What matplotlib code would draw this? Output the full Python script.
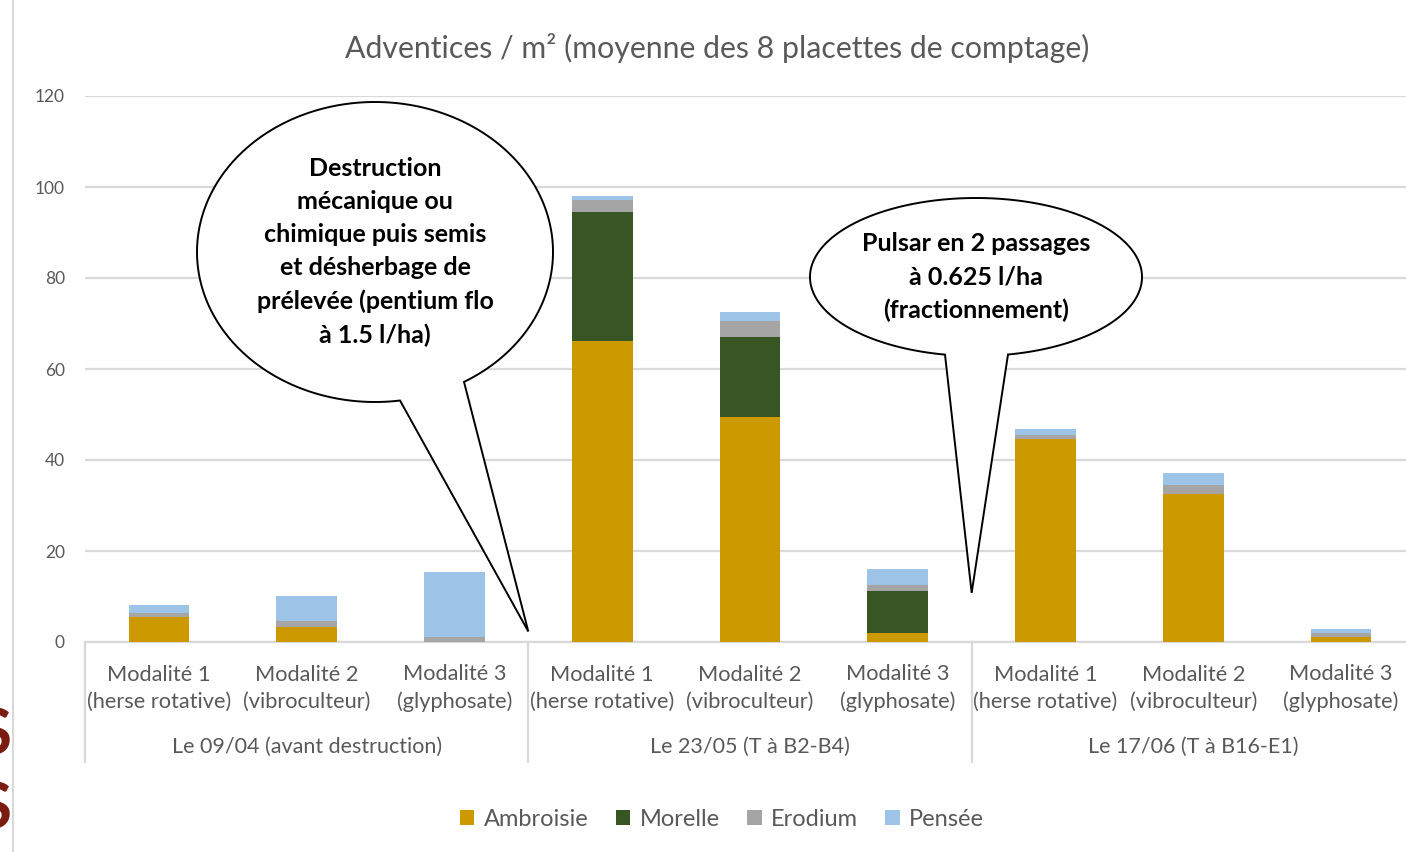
import numpy as np
import matplotlib
matplotlib.use("Agg")
import matplotlib.pyplot as plt
from matplotlib.patches import Patch, Polygon
from matplotlib.lines import Line2D

plt.rcParams['font.family'] = ['Lato', 'DejaVu Sans']

# ---------------- data ----------------
modalites = ["Modalité 1\n(herse rotative)", "Modalité 2\n(vibroculteur)", "Modalité 3\n(glyphosate)"]
groups = ["Le 09/04 (avant destruction)", "Le 23/05 (T à B2-B4)", "Le 17/06 (T à B16-E1)"]
series_names = ["Ambroisie", "Morelle", "Erodium", "Pensée"]
ambroisie = [5.4, 3.4, 0.0, 66.2, 49.5, 2.0, 44.6, 32.5, 1.2]
morelle = [0.0, 0.0, 0.0, 28.2, 17.5, 9.1, 0.0, 0.0, 0.0]
erodium = [1.0, 1.3, 1.2, 2.7, 3.6, 1.4, 1.0, 1.9, 0.7]
pensee = [1.7, 5.4, 14.1, 0.9, 2.0, 3.5, 1.2, 2.7, 1.0]
yticks = [0, 20, 40, 60, 80, 100, 120]
title = "Adventices / m² (moyenne des 8 placettes de comptage)"
callout1 = "Destruction\nmécanique ou\nchimique puis semis\net désherbage de\nprélevée (pentium flo\nà 1.5 l/ha)"
callout2 = "Pulsar en 2 passages\nà 0.625 l/ha\n(fractionnement)"

colors = ["#CC9900", "#375623", "#A5A5A5", "#9DC3E6"]
TXT = "#595959"
GRID = "#D9D9D9"

W, H = 1406, 852
fig = plt.figure(figsize=(W / 100, H / 100), dpi=100)
fig.patch.set_facecolor("white")

# axes in pixel positions
x0, x1 = 85, 1415
ytop, ybot = 96, 642
ax = fig.add_axes([x0 / W, 1 - ybot / H, (x1 - x0) / W, (ybot - ytop) / H])
ax.set_facecolor("none")

labels = modalites * 3
x = np.arange(len(labels))
series = [ambroisie, morelle, erodium, pensee]
bottom = np.zeros(len(x))
for name, vals, c in zip(series_names, series, colors):
    v = np.array(vals)
    ax.bar(x, v, width=0.41, bottom=bottom, color=c, label=name, zorder=3)
    bottom += v

ax.set_xlim(-0.5, len(x) - 0.5)
ax.set_ylim(0, 120)
ax.set_yticks(yticks)
ax.yaxis.grid(True, color=GRID, lw=1.6, zorder=0)
ax.set_axisbelow(True)
for s in ["top", "right", "left"]:
    ax.spines[s].set_visible(False)
ax.spines["bottom"].set_color(GRID)
ax.spines["bottom"].set_linewidth(1.6)
ax.tick_params(axis="y", length=0, pad=14.5, labelsize=12.5, labelcolor=TXT)
ax.tick_params(axis="x", length=0, labelbottom=False)

# multi-level category labels
tr = ax.get_xaxis_transform()
def py(pix):
    # pixel (from top) -> axes y fraction
    return (ybot - pix) / (ybot - ytop)
for i, lab in enumerate(labels):
    ax.text(i, py(688), lab, transform=tr, ha="center", va="center",
            fontsize=15.7, color=TXT, linespacing=1.42, clip_on=False)
for g, name in enumerate(groups):
    ax.text(3 * g + 1, py(747), name, transform=tr, ha="center", va="center",
            fontsize=15.5, color=TXT, clip_on=False)
for xs in [-0.5, 2.5, 5.5, 8.5]:
    ax.add_line(Line2D([xs, xs], [py(642), py(762)], transform=tr, color=GRID,
                       lw=1.6, clip_on=False))

# title
fig.text(717 / W, 1 - 48 / H, title, ha="center", va="center", fontsize=21.8, color=TXT)

# legend
handles = [Patch(facecolor=c, edgecolor="none") for c in colors]
fig.legend(handles, series_names, loc="center", bbox_to_anchor=(722 / W, 1 - 819 / H),
           ncol=4, frameon=False, fontsize=17, labelcolor=TXT, handlelength=0.62,
           handleheight=0.62, handletextpad=0.4, columnspacing=1.15)

# overlay axes in pixel coordinates for callouts
ov = fig.add_axes([0, 0, 1, 1])
ov.set_xlim(0, W)
ov.set_ylim(H, 0)
ov.axis("off")
ov.patch.set_alpha(0)

def data_to_pix(xd, yd):
    dx, dy = ax.transData.transform((xd, yd))
    return dx, H - dy

def callout(cx, cy, a, b, bx1, bx2, tip, text):
    t_right = np.arccos(np.clip((bx2 - cx) / a, -1, 1))
    t_left = np.arccos(np.clip((bx1 - cx) / a, -1, 1))
    ts = np.linspace(t_right, -(2 * np.pi - t_left), 400)
    pts = np.column_stack([cx + a * np.cos(ts), cy + b * np.sin(ts)])
    pts = np.vstack([pts, tip])
    poly = Polygon(pts, closed=True, facecolor="white", edgecolor="black", lw=1.4, zorder=10)
    ov.add_patch(poly)
    ov.text(cx, cy, text, ha="center", va="center", fontsize=18, fontweight="bold",
            color="black", linespacing=1.54, zorder=11)

tip1 = data_to_pix(2.5, 2.3)
tip2 = data_to_pix(5.5, 10.8)
callout(375, 252, 178, 150, 400, 464, tip1, callout1)
callout(976, 277, 166, 79, 945, 1008, tip2, callout2)

# slide artefacts on the left edge
ov.add_line(Line2D([13, 13], [0, H], color=GRID, lw=1.5))
ov.text(12, 736, "S", ha="right", va="center", fontsize=46, fontweight="bold", color="#7A1C10")
ov.text(12, 810, "S", ha="right", va="center", fontsize=46, fontweight="bold", color="#7A1C10")

fig.savefig("out.png", dpi=100, facecolor="white")
